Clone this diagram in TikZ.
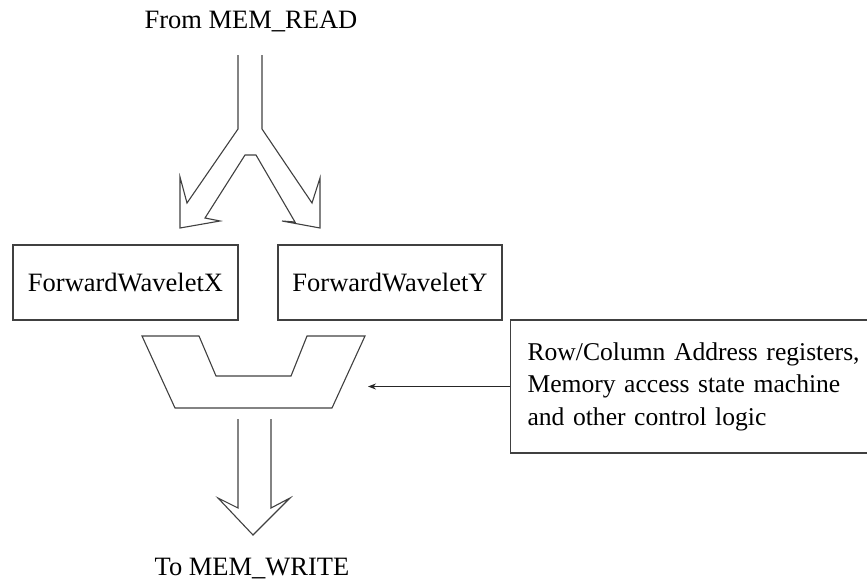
\documentclass[tikz,border=0pt]{standalone}
\usepackage{fontspec}
\setmainfont{Liberation Serif}
\usetikzlibrary{arrows.meta}
\begin{document}
\begin{tikzpicture}[x=1pt,y=-1pt,
  ln/.style={draw=black!75,line width=1.1pt},
  blockbox/.style={ln,rectangle,inner sep=0pt,minimum height=75pt,font=\fontsize{26.5}{32.5}\selectfont},
  lbl/.style={font=\fontsize{26.5}{32.5}\selectfont,inner sep=0pt}]
\useasboundingbox (0,0) rectangle (867,582);
\clip (0,0) rectangle (867,582);
% labels
\node[lbl,anchor=base] (from) at (251,28) {From MEM\_READ};
\node[lbl,anchor=base] (to) at (252,575) {To MEM\_WRITE};
% split arrow
\draw[ln,line join=miter] (238,55) -- (238,129) -- (187,203) -- (180,177) -- (180,228) -- (220,221) -- (205,218)
  -- (245,155) -- (256,155) -- (295,222) -- (282,221) -- (320,228) -- (320,178) -- (312,203)
  -- (262,129) -- (262,55);
% blocks
\node[blockbox,minimum width=225pt] (wx) at (125.5,282.5) {ForwardWaveletX};
\node[blockbox,minimum width=224pt] (wy) at (390,282.5) {ForwardWaveletY};
% mux
\draw[ln] (142,336) -- (199,336) -- (216,376) -- (291,376) -- (307,336) -- (365,336) -- (332,408) -- (175,408) -- cycle;
% output arrow
\draw[ln] (238,419) -- (238,508) -- (218,498) -- (253,535) -- (290,498) -- (271,508) -- (271,419);
% control box
\node[ln,rectangle,anchor=west,minimum height=133pt,text width=345pt,align=left,inner xsep=17pt,inner ysep=0pt,
  font=\fontsize{25.6}{32.5}\selectfont] (ctrl) at (510,386.5)
  {Row/Column Address registers,\\Memory access state machine\\and other control logic};
\coordinate (muxin) at (368,386.5);
\draw[draw=black!85,line width=1pt,-{Stealth[length=8pt,width=6pt]}] (ctrl.west) -- (muxin);
\end{tikzpicture}
\end{document}
